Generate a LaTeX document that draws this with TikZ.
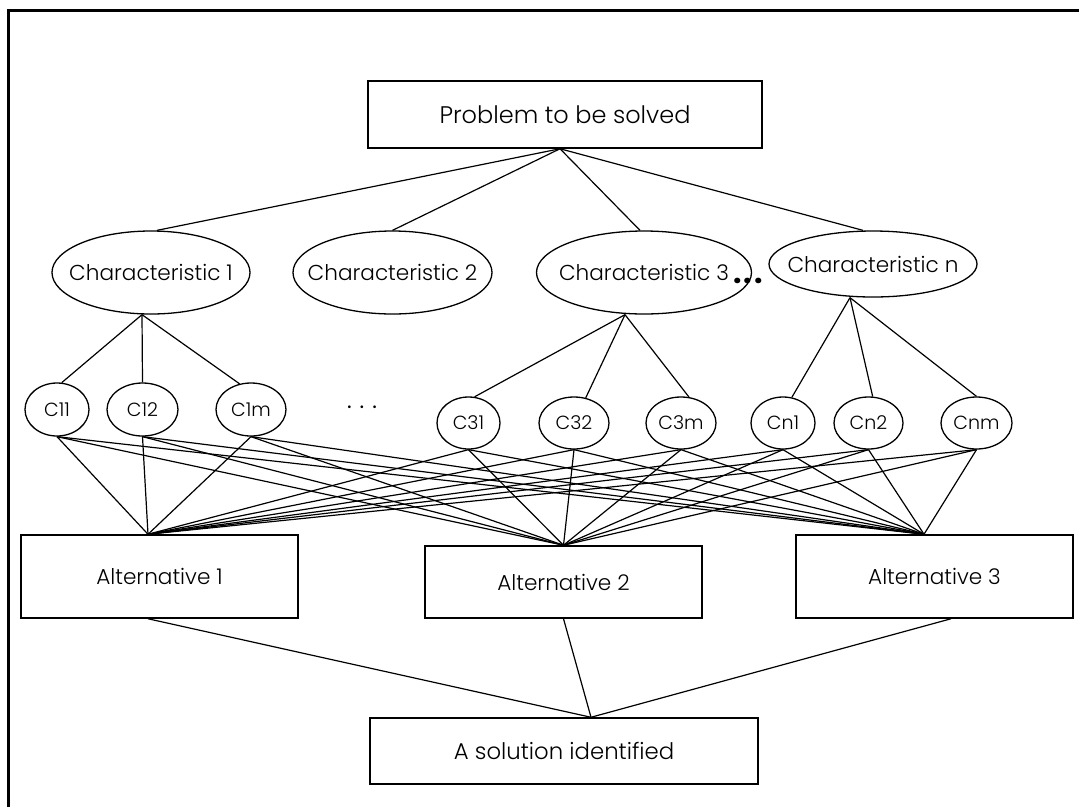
\documentclass[tikz,border=0pt]{standalone}
\usepackage{fontspec}
\setmainfont{Poppins Light}
\newfontfamily\heavyfont{Poppins}
\usetikzlibrary{shapes.geometric,calc}

% text of zero width, so that a shape keeps the size it is given
\newcommand\nowid[1]{\makebox[0pt]{#1}}

\begin{document}
\begin{tikzpicture}[x=1pt,y=-1pt,
  link/.style={line width=1.2pt},
  box/.style 2 args={draw, rectangle, line width=1.5pt, inner sep=0pt,
    minimum width=#1pt, minimum height=#2pt},
  oval/.style 2 args={draw, ellipse, line width=1.3pt, inner sep=0pt,
    minimum width=#1pt, minimum height=#2pt},
  probtext/.style={font=\fontsize{24}{28}\selectfont},
  bigtext/.style={font=\fontsize{21.6}{26}\selectfont},
  alttext/.style={font=\fontsize{21.6}{24}\selectfont},
  soltext/.style={font=\fontsize{22.8}{26}\selectfont},
  smalltext/.style={font=\fontsize{19}{24}\selectfont}]

\useasboundingbox (0,0) rectangle (1079,807);

% frame
\draw[line width=3pt] (8,807) -- (8,10) -- (1079,10);

% problem and characteristics
\node[box={394}{67}, probtext] (prob) at (565,114.5) {Problem to be solved};
\node[oval={198}{83}, bigtext] (ch1) at (151,272.5) {\nowid{Characteristic 1}};
\node[oval={199}{83}, bigtext] (ch2) at (392.5,272.5) {\nowid{Characteristic 2}};
\node[oval={215}{83}, bigtext] (ch3) at (644,272.5) {\nowid{Characteristic 3}};
\node[oval={208}{66}, bigtext] (chn) at (873,264) {\nowid{Characteristic n}};
\node[font=\fontsize{30}{30}\selectfont\heavyfont\bfseries, inner sep=0pt, anchor=base] (dotsB) at (748,283) {.\kern2pt.\kern2pt.};

% sub-characteristics
\node[oval={64}{53}, smalltext] (c11) at (57,409.5) {\nowid{C11}};
\node[oval={71}{53}, smalltext] (c12) at (142.5,409.5) {\nowid{C12}};
\node[oval={70}{53}, smalltext] (c1m) at (251,409.5) {\nowid{C1m}};
\node[font=\fontsize{22}{22}\selectfont\heavyfont, inner sep=0pt, anchor=base] (dotsA) at (362,408) {.\kern8pt.\kern8pt.};
\node[oval={63}{52}, smalltext] (c31) at (468.5,423) {\nowid{C31}};
\node[oval={70}{52}, smalltext] (c32) at (574,423) {\nowid{C32}};
\node[oval={70}{52}, smalltext] (c3m) at (681,423) {\nowid{C3m}};
\node[oval={64}{52}, smalltext] (cn1) at (783,423) {\nowid{Cn1}};
\node[oval={69}{52}, smalltext] (cn2) at (868.5,423) {\nowid{Cn2}};
\node[oval={71}{52}, smalltext] (cnm) at (976.5,423) {\nowid{Cnm}};

% alternatives and result
\node[box={277}{83}, alttext] (alt1) at (159.5,576.5) {Alternative 1};
\node[box={277}{72}, alttext] (alt2) at (563.5,582) {Alternative 2};
\node[box={277}{83}, alttext] (alt3) at (934.5,576.5) {Alternative 3};
\node[box={388}{66}, soltext] (sol) at (564,751) {A solution identified};

% junction points
\coordinate (probB) at ([xshift=-5pt]prob.south);
\coordinate (ch1B) at ([xshift=-9pt]ch1.south);
\coordinate (ch3B) at ([xshift=-19pt]ch3.south);
\coordinate (chnB) at ([xshift=-23pt]chn.south);
\coordinate (a1t) at ([xshift=-11.5pt]alt1.north);
\coordinate (a2t) at (alt2.north);
\coordinate (a3t) at ([xshift=-10.5pt]alt3.north);
\coordinate (a1b) at ([xshift=-11.5pt]alt1.south);
\coordinate (a2b) at (alt2.south);
\coordinate (a3b) at ([xshift=16.5pt]alt3.south);
\coordinate (solT) at ([xshift=27pt]sol.north);

% problem -> characteristics
\draw[link] (probB) -- ([xshift=6pt]ch1.north);
\draw[link] (probB) -- (ch2.north);
\draw[link] (probB) -- ([xshift=-4pt]ch3.north);
\draw[link] (probB) -- ([xshift=-10pt]chn.north);

% characteristics -> sub-characteristics
\draw[link] (ch1B) -- (c11.80);
\draw[link] (ch1B) -- (c12.north);
\draw[link] (ch1B) -- (c1m.114);
\draw[link] (ch3B) -- (c31.77);
\draw[link] (ch3B) -- (c32.65);
\draw[link] (ch3B) -- (c3m.73);
\draw[link] (chnB) -- (cn1.71);
\draw[link] (chnB) -- (cn2.81);
\draw[link] (chnB) -- (cnm.north);

% sub-characteristics -> alternatives
\foreach \s in {c11,c12,c1m,c31,c32,c3m,cn1,cn2,cnm}
  \foreach \a in {a1t,a2t,a3t}
    \draw[link] (\s.south) -- (\a);

% alternatives -> solution
\draw[link] (a1b) -- (solT);
\draw[link] (a2b) -- (solT);
\draw[link] (a3b) -- (solT);
\end{tikzpicture}
\end{document}
